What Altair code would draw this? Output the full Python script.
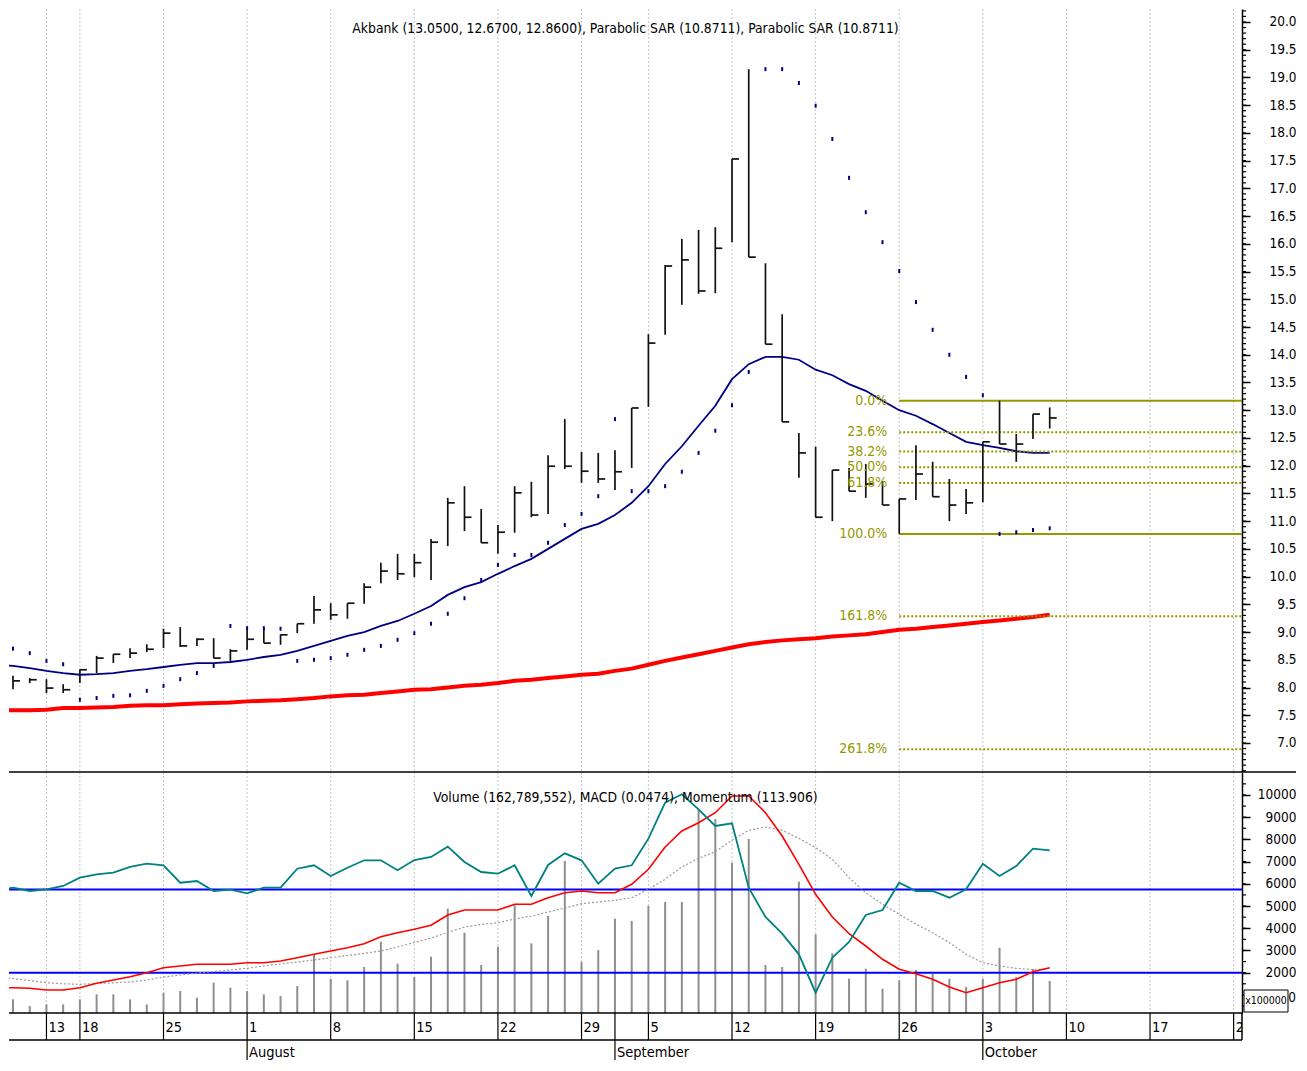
import altair as alt
import pandas as pd

# ---------------- data ----------------
high = [8.21, 8.17, 8.15, 8.06, 8.33, 8.57, 8.60, 8.71, 8.78, 9.06, 9.09, 8.89, 8.89, 8.69, 9.04, 9.07,
        8.96, 9.15, 9.65, 9.52, 9.52, 9.88, 10.25, 10.41, 10.41, 10.68, 11.42, 11.63, 11.22, 10.93, 11.63,
        11.71, 12.19, 12.84, 12.25, 12.23, 12.28, 13.04, 14.37, 15.62, 16.09, 16.25, 16.30, 17.53, 19.15,
        15.65, 14.73, 12.59, 12.34, 11.92, 11.96, 12.03, 11.72, 11.40, 12.37, 12.07, 11.76, 11.58, 12.43,
        13.17, 12.57, 12.93, 13.05]
low = [7.97, 8.08, 7.90, 7.90, 8.08, 8.26, 8.44, 8.53, 8.64, 8.71, 8.73, 8.75, 8.53, 8.48, 8.68, 8.80,
       8.77, 8.98, 9.15, 9.22, 9.24, 9.51, 9.88, 9.94, 9.99, 9.94, 10.55, 10.82, 10.61, 10.41, 10.79,
       11.07, 11.13, 11.94, 11.69, 11.69, 11.56, 11.96, 13.06, 14.36, 14.90, 15.10, 15.11, 16.03, 15.76,
       14.19, 12.79, 11.78, 11.07, 11.00, 11.54, 11.42, 11.29, 10.77, 11.38, 11.44, 11.00, 11.13, 11.34,
       12.39, 12.07, 12.48, 12.67]
close = [8.12, 8.14, 7.99, 7.96, 8.32, 8.53, 8.60, 8.62, 8.69, 8.98, 8.75, 8.87, 8.53, 8.66, 8.87, 8.80,
         8.95, 9.15, 9.40, 9.31, 9.52, 9.81, 10.10, 10.05, 10.25, 10.62, 11.33, 11.07, 10.61, 10.80, 11.51,
         11.11, 11.99, 11.99, 11.90, 11.76, 11.89, 13.04, 14.21, 15.60, 15.71, 15.15, 15.92, 17.53, 15.76,
         14.19, 12.79, 12.23, 11.07, 11.92, 11.54, 11.67, 11.29, 11.40, 11.85, 11.44, 11.29, 11.33, 12.43,
         12.39, 12.39, 12.93, 12.86]
sar = [8.70, 8.62, 8.48, 8.42, 7.78, 7.81, 7.85, 7.86, 7.94, 8.03, 8.15, 8.26, 8.39, 9.11, 9.07, 9.07,
       9.06, 8.48, 8.50, 8.53, 8.59, 8.68, 8.75, 8.86, 8.98, 9.15, 9.33, 9.61, 9.94, 10.21, 10.39, 10.39,
       10.61, 10.93, 11.13, 11.45, 12.84, 11.54, 11.54, 11.63, 11.89, 12.23, 12.63, 13.09, 13.69, 19.15,
       19.15, 18.90, 18.49, 17.89, 17.19, 16.57, 16.03, 15.51, 14.95, 14.45, 14.00, 13.60, 13.27, 10.77,
       10.80, 10.84, 10.87]
# volume, in the axis' x100000 units
volume = [801, 500, 576, 576, 801, 1026, 1026, 801, 576, 1098, 1175, 873, 1549, 1324, 1175, 1026, 950,
          1400, 2827, 1729, 1657, 2255, 3394, 2404, 1805, 2719, 4880, 3800, 2346, 3169, 5033, 3322, 4551,
          7028, 2494, 3021, 4430, 4326, 5002, 5182, 5182, 9369, 8918, 6951, 8018, 2346, 2255, 6096, 3728,
          2872, 1729, 2179, 1279, 1657, 2120, 1954, 1729, 1355, 1729, 3124, 1805, 2165, 1628]

# line series start one session before the first bar
sma = [8.41, 8.39, 8.35, 8.30, 8.26, 8.23, 8.24, 8.26, 8.30, 8.33, 8.37, 8.41, 8.44, 8.44, 8.46, 8.50,
       8.55, 8.59, 8.66, 8.75, 8.84, 8.93, 9.00, 9.11, 9.20, 9.33, 9.47, 9.67, 9.81, 9.90, 10.05, 10.19,
       10.32, 10.50, 10.68, 10.86, 10.95, 11.11, 11.33, 11.63, 12.03, 12.35, 12.72, 13.08, 13.56, 13.83,
       13.96, 13.96, 13.91, 13.73, 13.63, 13.47, 13.35, 13.17, 13.00, 12.90, 12.75, 12.59, 12.43, 12.37,
       12.32, 12.26, 12.23, 12.23]
ma_long = [7.59, 7.59, 7.59, 7.60, 7.63, 7.63, 7.64, 7.65, 7.67, 7.68, 7.68, 7.70, 7.71, 7.72, 7.73, 7.75,
           7.76, 7.77, 7.79, 7.81, 7.84, 7.86, 7.87, 7.90, 7.93, 7.96, 7.97, 8.00, 8.03, 8.05, 8.08, 8.12,
           8.14, 8.17, 8.20, 8.23, 8.25, 8.30, 8.34, 8.41, 8.48, 8.54, 8.60, 8.66, 8.72, 8.78, 8.82, 8.85,
           8.87, 8.89, 8.92, 8.94, 8.96, 9.00, 9.04, 9.06, 9.09, 9.12, 9.15, 9.18, 9.21, 9.24, 9.27, 9.31]
macd = [1324, 1324, 1297, 1220, 1220, 1324, 1522, 1670, 1819, 1999, 2224, 2301, 2377, 2377, 2377, 2449,
        2449, 2526, 2674, 2827, 2976, 3124, 3304, 3620, 3800, 3953, 4133, 4597, 4822, 4822, 4822, 5078,
        5078, 5375, 5600, 5677, 5600, 5600, 5979, 6654, 7658, 8378, 8752, 9202, 9954, 9954, 9202, 8153,
        6879, 5528, 4507, 3755, 3201, 2602, 2152, 1954, 1702, 1355, 1098, 1324, 1549, 1702, 2044, 2224]
signal = [1828, 1738, 1648, 1549, 1499, 1477, 1513, 1544, 1580, 1670, 1805, 1895, 1985, 2053, 2120, 2197,
          2301, 2391, 2481, 2571, 2674, 2773, 2872, 2976, 3156, 3358, 3561, 3809, 4056, 4169, 4250, 4416,
          4551, 4732, 4912, 5105, 5182, 5258, 5375, 5754, 6204, 6758, 7149, 7446, 7960, 8410, 8558, 8410,
          8050, 7626, 7104, 6276, 5600, 5078, 4628, 4178, 3800, 3349, 2827, 2449, 2301, 2197, 2134, 2197]
momentum = [5677, 5826, 5677, 5754, 5902, 6276, 6429, 6501, 6758, 6906, 6834, 6051, 6127, 5677, 5736,
            5573, 5826, 5826, 6681, 6834, 6352, 6726, 7059, 7059, 6609, 7073, 7208, 7671, 6983, 6532,
            6456, 6834, 5452, 6848, 7374, 7059, 6006, 6681, 6834, 8032, 9652, 10030, 9355, 8603, 8725,
            5826, 4507, 3755, 2827, 1098, 2674, 3381, 4597, 4822, 6051, 5677, 5677, 5375, 5754, 6906,
            6352, 6802, 7581, 7509]

ref_levels = [2000, 5750]

week_idx = [2, 4, 9, 14, 19, 24, 29, 34, 38, 43, 48, 53, 58, 63, 68, 73]
week_labels = ["13", "18", "25", "1", "8", "15", "22", "29", "5", "12", "19", "26", "3", "10", "17", "24"]
month_idx = [14, 36, 58]
month_labels = ["August", "September", "October"]

fib_start = 53
fib_high = 13.17
fib_low = 10.77
fib_ratios = [0.0, 0.236, 0.382, 0.5, 0.618, 1.0, 1.618, 2.618]
fib_labels = ["0.0%", "23.6%", "38.2%", "50.0%", "61.8%", "100.0%", "161.8%", "261.8%"]
fib_solid = [True, False, False, False, False, True, False, False]

price_ticks = [round(7.0 + 0.5 * k, 1) for k in range(27)]
vol_ticks = list(range(2000, 10001, 1000))
vol_hidden_tick = [1000]   # label mostly covered by the unit box

title_top = "Akbank (13.0500, 12.6700, 12.8600), Parabolic SAR (10.8711), Parabolic SAR (10.8711)"
title_bot = "Volume (162,789,552), MACD (0.0474), Momentum (113.906)"

# ---------------- tables ----------------
N = len(high)
bars = pd.DataFrame({"i": list(range(N)), "high": high, "low": low, "close": close,
                     "sar": sar, "vol": volume})
lines = pd.DataFrame({"i": list(range(-1, N)), "sma": sma, "ma_long": ma_long,
                      "macd": macd, "signal": signal, "mom": momentum})
fib = pd.DataFrame({"label": fib_labels, "solid": fib_solid,
                    "price": [fib_high - r * (fib_high - fib_low) for r in fib_ratios],
                    "start": [fib_start] * len(fib_ratios)})
weeks = pd.DataFrame({"i": week_idx, "label": week_labels})
months = pd.DataFrame({"i": month_idx, "label": month_labels})
day_row_ticks = pd.DataFrame({"i": sorted(set(week_idx) | set(month_idx))})

# ---------------- layout ----------------
W, H1, H2, H3 = 1233, 763, 241, 47
X_DOM = [-0.24, 73.5]
P_DOM = [6.4766, 20.234]
V_DOM = [185, 11034]
FONT = "DejaVu Sans Condensed, Liberation Sans Narrow, sans-serif"
OLIVE = "#979700"
AX_FS = 13.5

xs = alt.Scale(domain=X_DOM, nice=False, zero=False)
ps = alt.Scale(domain=P_DOM, nice=False, zero=False)
vs = alt.Scale(domain=V_DOM, nice=False, zero=False)
X = alt.X("i:Q", scale=xs, axis=None)


def make_axis(vals, fmt):
    return alt.Axis(orient="right", values=vals, format=fmt, tickSize=8, tickColor="black",
                    tickWidth=1.5, domainColor="black", domainWidth=1.5, labelFont=FONT,
                    labelFontSize=AX_FS, labelColor="black", labelAlign="right", labelPadding=46,
                    labelOverlap=False, labelBound=False, labelFlush=False, title=None, grid=False)


price_axis = make_axis(price_ticks, ".1f")
vol_axis = make_axis(vol_ticks, "d")


def PY(field):
    return alt.Y(f"{field}:Q", scale=ps, axis=price_axis)


def VY(field):
    return alt.Y(f"{field}:Q", scale=vs, axis=vol_axis)


# ---------------- top panel ----------------
grid_top = alt.Chart(weeks).mark_rule(color="#c4c4c4", strokeDash=[2, 2], strokeWidth=1).encode(x=X)
minor_p = pd.DataFrame({"v": [round(6.5 + 0.1 * k, 1) for k in range(138)]})
minor_top = alt.Chart(minor_p).mark_rule(color="black", strokeWidth=1.2).encode(
    x=alt.value(W), x2=alt.value(W + 4), y=PY("v"))
hl = alt.Chart(bars).mark_rule(color="#111111", strokeWidth=1.7).encode(x=X, y=PY("high"), y2="low:Q")
cl = alt.Chart(bars).mark_rule(color="#111111", strokeWidth=1.7, x2Offset=7).encode(
    x=X, x2="i:Q", y=PY("close"))
ma_l = alt.Chart(lines).mark_line(color="#ff0000", strokeWidth=4, clip=True).encode(x=X, y=PY("ma_long"))
sma_l = alt.Chart(lines).mark_line(color="#000080", strokeWidth=1.8, clip=True).encode(x=X, y=PY("sma"))
sar_d = alt.Chart(bars).mark_rule(color="#000080", strokeWidth=2, yOffset=-2, y2Offset=2).encode(
    x=X, y=PY("sar"), y2="sar:Q")
fib_solid_l = alt.Chart(fib[fib["solid"]]).mark_rule(color=OLIVE, strokeWidth=2).encode(
    x=alt.X("start:Q", scale=xs, axis=None), x2=alt.value(W), y=PY("price"))
fib_dot_l = alt.Chart(fib[~fib["solid"]]).mark_rule(color=OLIVE, strokeWidth=2, strokeDash=[2, 2]).encode(
    x=alt.X("start:Q", scale=xs, axis=None), x2=alt.value(W), y=PY("price"))
fib_txt = alt.Chart(fib).mark_text(color=OLIVE, font=FONT, fontSize=14, align="right", dx=-12,
                                   baseline="middle").encode(
    x=alt.X("start:Q", scale=xs, axis=None), y=PY("price"), text="label:N")
ttl_top = alt.Chart(pd.DataFrame({"t": [title_top]})).mark_text(
    font=FONT, fontSize=13.8, align="center", baseline="middle", color="black").encode(
    x=alt.value(W / 2), y=alt.value(20), text="t:N")

top = alt.layer(grid_top, minor_top, ma_l, sma_l, fib_solid_l, fib_dot_l, hl, cl, sar_d, fib_txt,
                ttl_top).properties(width=W, height=H1)

# ---------------- bottom panel ----------------
grid_bot = alt.Chart(weeks).mark_rule(color="#c4c4c4", strokeDash=[2, 2], strokeWidth=1).encode(x=X)
minor_v = pd.DataFrame({"v": list(range(500, 10501, 500))})
minor_bot = alt.Chart(minor_v).mark_rule(color="black", strokeWidth=1.2).encode(
    x=alt.value(W), x2=alt.value(W + 4), y=VY("v"))
major_hidden = alt.Chart(pd.DataFrame({"v": vol_hidden_tick})).mark_rule(color="black", strokeWidth=1.5).encode(
    x=alt.value(W), x2=alt.value(W + 8), y=VY("v"))
hidden_lbl = alt.Chart(pd.DataFrame({"v": vol_hidden_tick})).mark_text(
    font=FONT, fontSize=AX_FS, align="right", baseline="middle", color="black", dy=3).encode(
    x=alt.value(W + 54), y=VY("v"), text=alt.Text("v:Q", format="d"))
vol_b = alt.Chart(bars).mark_rule(color="#8e8e8e", strokeWidth=2).encode(
    x=X, y=VY("vol"), y2=alt.datum(V_DOM[0]))
refs = alt.Chart(pd.DataFrame({"v": ref_levels})).mark_rule(color="#0000ff", strokeWidth=2).encode(y=VY("v"))
sig_l = alt.Chart(lines).mark_line(color="#9a9a9a", strokeWidth=1.2, strokeDash=[2, 2], clip=True).encode(
    x=X, y=VY("signal"))
macd_l = alt.Chart(lines).mark_line(color="#ff0000", strokeWidth=1.6, clip=True).encode(x=X, y=VY("macd"))
mom_l = alt.Chart(lines).mark_line(color="#008080", strokeWidth=1.8, clip=True).encode(x=X, y=VY("mom"))
ttl_bot = alt.Chart(pd.DataFrame({"t": [title_bot]})).mark_text(
    font=FONT, fontSize=13.8, align="center", baseline="middle", color="black").encode(
    x=alt.value(W / 2), y=alt.value(26), text="t:N")
sep = alt.Chart(pd.DataFrame({"a": [0]})).mark_rule(color="black", strokeWidth=1.5).encode(
    x=alt.value(0), x2=alt.value(W + 54), y=alt.value(0))
unit_box = alt.Chart(pd.DataFrame({"a": [0]})).mark_rect(fill="white", stroke="black", strokeWidth=1).encode(
    x=alt.value(W + 2), x2=alt.value(W + 46), y=alt.value(218), y2=alt.value(240))
unit_txt = alt.Chart(pd.DataFrame({"t": ["x100000"]})).mark_text(
    font=FONT, fontSize=10.5, align="center", baseline="middle", color="black").encode(
    x=alt.value(W + 24), y=alt.value(229), text="t:N")

bottom = alt.layer(grid_bot, minor_bot, major_hidden, hidden_lbl, vol_b, refs, sig_l, macd_l, mom_l,
                   ttl_bot, sep, unit_box, unit_txt).properties(width=W, height=H2)

# ---------------- date axis rows ----------------
day_ticks = alt.Chart(day_row_ticks).mark_rule(color="black", strokeWidth=1.2).encode(
    x=X, y=alt.value(0), y2=alt.value(27))
mon_ticks = alt.Chart(months).mark_rule(color="black", strokeWidth=1.2).encode(
    x=X, y=alt.value(27), y2=alt.value(H3))
hrules = alt.Chart(pd.DataFrame({"yy": [0, 27]})).mark_rule(color="black", strokeWidth=1.5).encode(
    x=alt.value(0), x2=alt.value(W),
    y=alt.Y("yy:Q", scale=alt.Scale(domain=[0, H3], range=[0, H3]), axis=None))
right_edge = alt.Chart(pd.DataFrame({"a": [0]})).mark_rule(color="black", strokeWidth=1.5).encode(
    x=alt.value(W), y=alt.value(0), y2=alt.value(27))
wk_txt = alt.Chart(weeks).mark_text(font=FONT, fontSize=14.5, align="left", dx=2, baseline="middle",
                                     color="black", clip=True).encode(
    x=X, y=alt.value(15), text="label:N")
mo_txt = alt.Chart(months).mark_text(font=FONT, fontSize=14.5, align="left", dx=2, baseline="middle",
                                      color="black").encode(
    x=X, y=alt.value(40), text="label:N")

dates = alt.layer(day_ticks, mon_ticks, hrules, right_edge, wk_txt, mo_txt).properties(width=W, height=H3)

chart = alt.vconcat(top, bottom, dates, spacing=0, bounds="flush").properties(
    padding={"left": 0, "top": 0, "right": 0, "bottom": 0}, background="white"
).configure_view(stroke=None)

chart.save("out.html", embed_options={"renderer": "svg", "actions": False})
